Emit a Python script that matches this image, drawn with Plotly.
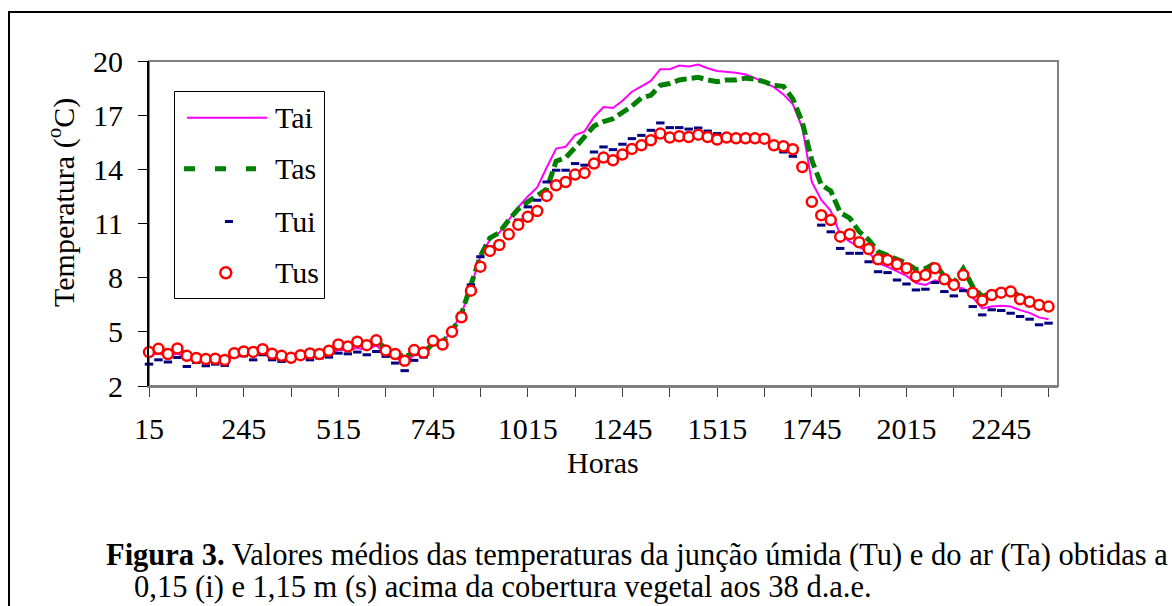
import plotly.graph_objects as go

# Quarter-hour time stamps (HHMM without leading zeros): 15, 30, 45, 100, ... 2400
horas = []
for h in range(0, 24):
    for m in (15, 30, 45, 60):
        hh, mm = (h + 1, 0) if m == 60 else (h, m)
        horas.append(str(hh * 100 + mm))

# Mean temperatures (°C)
tai = [3.7, 3.8, 3.65, 3.8, 3.5, 3.4, 3.35, 3.35, 3.3, 3.7,
       3.8, 3.75, 3.9, 3.65, 3.55, 3.5, 3.55, 3.6, 3.6, 3.75,
       4.0, 4.0, 4.1, 4.0, 4.25, 3.8, 3.6, 3.3, 3.7, 3.7,
       4.4, 4.4, 5.1, 6.0, 7.5, 9.2, 10.1, 10.5, 11.2, 11.9,
       12.5, 13.0, 14.1, 15.15, 15.25, 15.9, 16.1, 16.9, 17.45, 17.4,
       17.8, 18.3, 18.6, 18.9, 19.55, 19.55, 19.75, 19.7, 19.8, 19.6,
       19.45, 19.4, 19.35, 19.25, 19.05, 18.8, 18.55, 18.15, 17.6, 16.3,
       13.3, 12.3, 11.7, 10.4, 10.0, 9.7, 9.4, 8.8, 8.6, 8.35,
       8.1, 7.7, 7.6, 7.85, 7.7, 7.5, 7.4, 6.9, 6.3, 6.4,
       6.45, 6.4, 6.2, 6.05, 5.8, 5.7]

tas = [3.95, 4.0, 3.85, 4.0, 3.75, 3.6, 3.55, 3.5, 3.5, 3.8,
       3.9, 3.9, 4.0, 3.8, 3.7, 3.6, 3.7, 3.8, 3.8, 3.95,
       4.25, 4.25, 4.45, 4.35, 4.55, 4.05, 3.85, 3.6, 3.85, 3.85,
       4.35, 4.45, 5.0, 6.0, 7.6, 9.2, 10.2, 10.5, 11.2, 11.8,
       12.2, 12.55, 12.9, 14.45, 14.65, 15.2, 15.75, 16.4, 16.65, 16.8,
       17.15, 17.5, 17.95, 18.1, 18.65, 18.75, 18.95, 19.0, 19.1, 18.95,
       18.85, 18.95, 18.95, 19.05, 19.0, 18.85, 18.65, 18.6, 17.9, 16.6,
       14.5, 13.15, 12.8, 11.6, 11.3, 10.55, 10.1, 9.45, 9.25, 9.05,
       8.8, 8.45, 8.5, 8.8, 8.05, 7.7, 8.5, 7.5, 6.95, 7.15,
       7.3, 7.3, 6.95, 6.75, 6.6, 6.45]

tui = [3.21, 3.45, 3.33, 3.58, 3.08, 3.30, 3.12, 3.21, 3.14, 3.64,
       3.67, 3.45, 3.73, 3.45, 3.36, 3.42, 3.55, 3.45, 3.55, 3.60,
       3.82, 3.78, 3.88, 3.73, 3.91, 3.64, 3.27, 2.85, 3.42, 3.60,
       4.38, 4.34, 5.15, 6.03, 7.60, 9.16, 9.71, 9.99, 10.54, 11.19,
       11.92, 12.29, 13.30, 13.95, 13.95, 14.32, 14.23, 14.96, 15.24, 15.09,
       15.39, 15.70, 15.88, 16.16, 16.57, 16.31, 16.31, 16.23, 16.29, 16.12,
       15.98, 15.88, 15.83, 15.76, 15.65, 15.61, 15.24, 14.96, 14.72, 14.23,
       12.11, 10.91, 10.54, 9.62, 9.35, 9.35, 8.88, 8.33, 8.28, 7.87,
       7.65, 7.32, 7.36, 7.73, 7.23, 6.99, 7.28, 6.40, 5.94, 6.22,
       6.18, 6.03, 5.85, 5.70, 5.39, 5.48]

tus = [3.88, 4.06, 3.77, 4.08, 3.67, 3.55, 3.49, 3.51, 3.44, 3.82,
       3.91, 3.89, 4.04, 3.78, 3.67, 3.56, 3.71, 3.80, 3.77, 3.95,
       4.30, 4.19, 4.45, 4.26, 4.53, 3.97, 3.77, 3.40, 3.99, 3.86,
       4.50, 4.30, 5.00, 5.81, 7.28, 8.61, 9.48, 9.81, 10.40, 10.93,
       11.37, 11.69, 12.53, 13.12, 13.30, 13.71, 13.80, 14.32, 14.65, 14.50,
       14.82, 15.13, 15.33, 15.61, 15.98, 15.76, 15.83, 15.79, 15.92, 15.79,
       15.65, 15.76, 15.72, 15.72, 15.72, 15.70, 15.33, 15.28, 15.11, 14.13,
       12.20, 11.46, 11.19, 10.27, 10.41, 9.96, 9.59, 9.02, 8.98, 8.74,
       8.52, 8.06, 8.15, 8.52, 7.91, 7.60, 8.15, 7.17, 6.73, 7.04,
       7.17, 7.23, 6.81, 6.66, 6.49, 6.40]

y_ticks = [2, 5, 8, 11, 14, 17, 20]

FONT = "Liberation Serif, Times New Roman, serif"
FS = 30
W, H = 1172, 606
L, R, T, B = 149, 114, 61, 220
PW, PH = W - L - R, H - T - B


def px(x):
    """Horizontal pixel position -> paper coordinate."""
    return (x - L) / PW


def py(y):
    """Vertical pixel position (from top) -> paper coordinate."""
    return (H - B - y) / PH


# category positions along the time axis
xs = list(range(len(horas)))

fig = go.Figure()

fig.add_trace(go.Scatter(x=xs, y=tai, mode="lines", name="Tai", customdata=horas,
                         line=dict(color="#FF00FF", width=2), cliponaxis=False))
fig.add_trace(go.Scatter(x=xs, y=tas, mode="lines", name="Tas", customdata=horas,
                         line=dict(color="#008000", width=5, dash="12px,5px"),
                         cliponaxis=False))
fig.add_trace(go.Scatter(x=xs, y=tui, mode="markers", name="Tui", customdata=horas,
                         marker=dict(symbol="line-ew", size=6,
                                     line=dict(color="#000080", width=3)),
                         cliponaxis=False))
fig.add_trace(go.Scatter(x=xs, y=tus, mode="markers", name="Tus", customdata=horas,
                         marker=dict(symbol="circle", size=10, color="white",
                                     line=dict(color="#FF0000", width=2.5)),
                         cliponaxis=False))

fig.update_xaxes(
    range=[0, len(horas)], showgrid=False, zeroline=False,
    showline=True, linecolor="#808080", linewidth=2,
    ticks="outside", ticklen=9, tickcolor="#404040", tickwidth=1,
    tickmode="array", tickvals=xs[::10], ticktext=horas[::10], tickangle=0,
    ticklabelstandoff=6,
    minor=dict(tickmode="array", tickvals=xs[5::10], ticks="outside",
               ticklen=9, tickcolor="#404040", tickwidth=1, showgrid=False),
    tickfont=dict(family=FONT, size=FS, color="black"),
)
fig.update_yaxes(
    range=[2, 20], tickvals=y_ticks, showgrid=False, zeroline=False,
    showline=True, linecolor="#000000", linewidth=2,
    ticks="outside", ticklen=9, tickcolor="#000000", tickwidth=1,
    ticklabelstandoff=9,
    tickfont=dict(family=FONT, size=FS, color="black"),
)

shapes = []
# plot-area frame (top and right edges in grey)
shapes.append(dict(type="rect", xref="paper", yref="paper", x0=0, x1=1, y0=0, y1=1,
                   line=dict(color="#808080", width=2), layer="below"))
# outer figure frame
shapes.append(dict(type="rect", xref="paper", yref="paper",
                   x0=px(9), x1=px(1180), y0=py(620), y1=py(12),
                   line=dict(color="black", width=2)))

# legend box and samples
shapes.append(dict(type="rect", xref="paper", yref="paper",
                   x0=px(174.5), x1=px(324.5), y0=py(298.5), y1=py(91.5),
                   line=dict(color="black", width=1), fillcolor="white", layer="above"))
shapes.append(dict(type="line", xref="paper", yref="paper",
                   x0=px(187), x1=px(267), y0=py(117.7), y1=py(117.7),
                   line=dict(color="#FF00FF", width=2), layer="above"))
shapes.append(dict(type="line", xref="paper", yref="paper",
                   x0=px(184), x1=px(256), y0=py(168.7), y1=py(168.7),
                   line=dict(color="#008000", width=5, dash="11px,20px"), layer="above"))
shapes.append(dict(type="line", xref="paper", yref="paper",
                   x0=px(225), x1=px(233), y0=py(221.5), y1=py(221.5),
                   line=dict(color="#000080", width=3), layer="above"))
shapes.append(dict(type="circle", xref="paper", yref="paper",
                   x0=px(220.3), x1=px(231.3), y0=py(278.2), y1=py(267.2),
                   line=dict(color="#FF0000", width=2.5), fillcolor="white", layer="above"))

annotations = []
for name, yc in (("Tai", 117.7), ("Tas", 168.7), ("Tui", 221.5), ("Tus", 272.7)):
    annotations.append(dict(text=name, xref="paper", yref="paper",
                            x=px(273), y=py(yc), xanchor="left", yanchor="middle",
                            showarrow=False, font=dict(family=FONT, size=FS, color="black")))

annotations.append(dict(text="Temperatura (<sup>o</sup>C)", xref="paper", yref="paper",
                        x=px(61), y=py(203), textangle=-90, xanchor="center", yanchor="middle",
                        showarrow=False, font=dict(family=FONT, size=FS, color="black")))
annotations.append(dict(text="Horas", xref="paper", yref="paper",
                        x=px(603), y=py(462), xanchor="center", yanchor="middle",
                        showarrow=False, font=dict(family=FONT, size=FS, color="black")))
annotations.append(dict(
    text="<b>Figura 3.</b> Valores médios das temperaturas da junção úmida (Tu) e do ar (Ta) obtidas a",
    xref="paper", yref="paper", x=px(104), y=py(555), xanchor="left", yanchor="middle",
    showarrow=False, font=dict(family=FONT, size=30.5, color="black")))
annotations.append(dict(
    text="0,15 (i) e 1,15 m (s) acima da cobertura vegetal aos 38 d.a.e.",
    xref="paper", yref="paper", x=px(132), y=py(587), xanchor="left", yanchor="middle",
    showarrow=False, font=dict(family=FONT, size=30.5, color="black")))

fig.update_layout(
    width=W, height=H, margin=dict(l=L, r=R, t=T, b=B),
    paper_bgcolor="white", plot_bgcolor="white",
    showlegend=False, shapes=shapes, annotations=annotations,
    font=dict(family=FONT, size=FS, color="black"),
)

fig.write_html("out.html")
